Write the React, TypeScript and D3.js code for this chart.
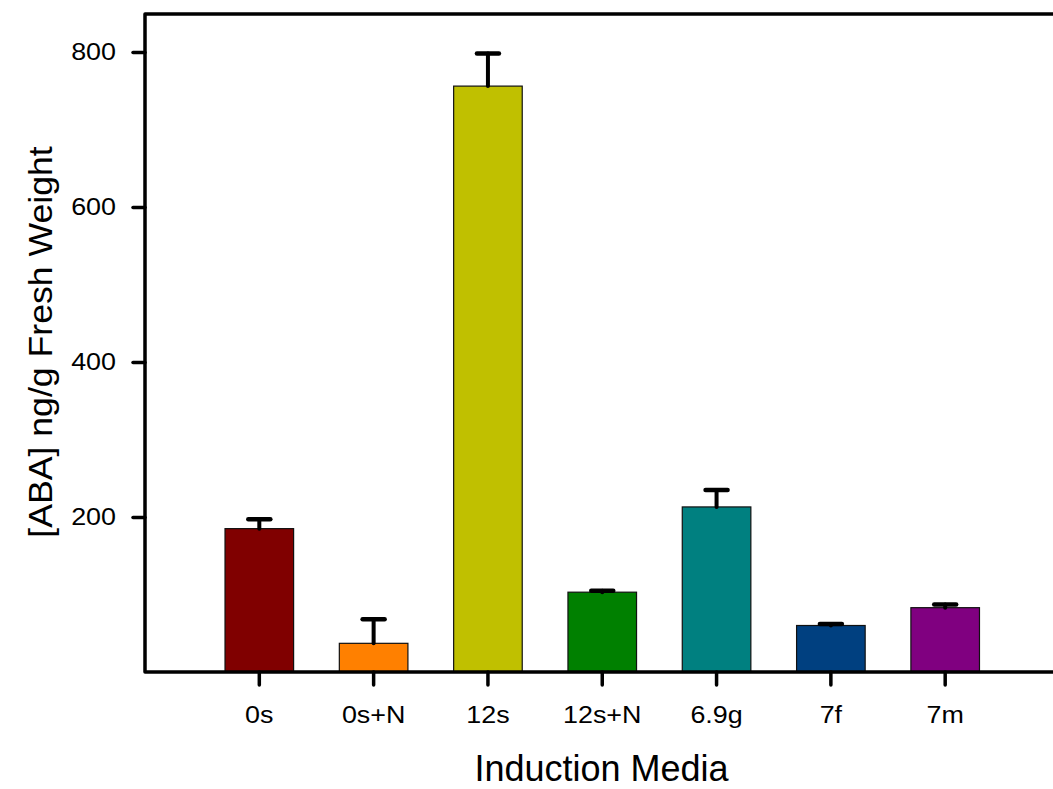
import React, { useEffect, useRef } from 'react';
import * as d3 from 'd3';

const categories = ['0s', '0s+N', '12s', '12s+N', '6.9g', '7f', '7m'];
const abaValues = [185, 37, 756, 103, 213, 60, 83];
const abaErrors = [12, 31, 42, 2, 22, 2, 4];
const barColors = ['#800000', '#ff8000', '#c0c000', '#008000', '#008080', '#004080', '#800080'];
const yTicks = [200, 400, 600, 800];

const W = 1053;
const H = 789;
const FONT = '"Liberation Sans", Arial, sans-serif';
// tick labels in the original are a little wide for their height
const SX = 1.12;

export default function App() {
  const svgRef = useRef<SVGSVGElement>(null);

  useEffect(() => {
    const svg = d3.select(svgRef.current);
    svg.selectAll('*').remove();

    const left = 145;
    const bottom = 672;
    const top = 14;

    const x = d3.scaleBand<string>()
      .domain(categories)
      .range([left, 1059.5])
      .paddingInner(0.4)
      .paddingOuter(0.7);
    const y = d3.scaleLinear().domain([0, 850]).range([bottom, 13.25]);

    const data = categories.map((c, i) => ({ c, v: abaValues[i], e: abaErrors[i], color: barColors[i] }));

    // bars
    svg.append('g')
      .selectAll('rect')
      .data(data)
      .join('rect')
      .attr('x', d => x(d.c)!)
      .attr('y', d => y(d.v))
      .attr('width', x.bandwidth())
      .attr('height', d => bottom - y(d.v))
      .attr('fill', d => d.color)
      .attr('stroke', '#111')
      .attr('stroke-width', 1.2);

    // error bars (upper only)
    const err = svg.append('g').attr('stroke', '#000').attr('stroke-linecap', 'round');
    const cx = (d: { c: string }) => x(d.c)! + x.bandwidth() / 2;
    err.selectAll('line.stem')
      .data(data)
      .join('line')
      .attr('class', 'stem')
      .attr('x1', cx).attr('x2', cx)
      .attr('y1', d => y(d.v))
      .attr('y2', d => y(d.v + d.e))
      .attr('stroke-width', 4);
    err.selectAll('line.cap')
      .data(data)
      .join('line')
      .attr('class', 'cap')
      .attr('x1', d => cx(d) - 11).attr('x2', d => cx(d) + 11)
      .attr('y1', d => y(d.v + d.e))
      .attr('y2', d => y(d.v + d.e))
      .attr('stroke-width', 4.5);

    // y axis
    const yAxis = svg.append('g')
      .attr('transform', `translate(${left},0)`)
      .call(d3.axisLeft(y).tickValues(yTicks).tickSize(12).tickPadding(17).tickFormat(d3.format('d')));
    yAxis.select('.domain').remove();
    yAxis.selectAll('.tick line').attr('stroke', '#000').attr('stroke-width', 3.5).attr('stroke-linecap', 'round');
    yAxis.selectAll('.tick text')
      .attr('font-family', FONT).attr('font-size', 24).attr('fill', '#000')
      .attr('x', -29 / SX)
      .attr('transform', `scale(${SX},1)`);

    // x axis
    const xAxis = svg.append('g')
      .attr('transform', `translate(0,${bottom})`)
      .call(d3.axisBottom(x).tickSize(13).tickPadding(21));
    xAxis.select('.domain').remove();
    xAxis.selectAll('.tick line').attr('stroke', '#000').attr('stroke-width', 3.5).attr('stroke-linecap', 'round');
    xAxis.selectAll('.tick text')
      .attr('font-family', FONT).attr('font-size', 24).attr('fill', '#000')
      .attr('transform', `scale(${SX},1)`);

    // frame
    svg.append('path')
      .attr('d', `M${W},${top}H${left}V${bottom}H${W}`)
      .attr('fill', 'none')
      .attr('stroke', '#000')
      .attr('stroke-width', 3.5)
      .attr('stroke-linejoin', 'round');

    // titles
    svg.append('text')
      .attr('x', 601.5)
      .attr('y', 781)
      .attr('text-anchor', 'middle')
      .attr('font-family', FONT)
      .attr('font-size', 36)
      .text('Induction Media');

    svg.append('text')
      .attr('transform', `translate(52,342) rotate(-90) scale(1.08,1)`)
      .attr('text-anchor', 'middle')
      .attr('font-family', FONT)
      .attr('font-size', 33)
      .text('[ABA] ng/g Fresh Weight');
  }, []);

  return (
    <svg
      ref={svgRef}
      width={W}
      height={H}
      style={{ position: 'absolute', left: 0, top: 0, background: '#fff' }}
    />
  );
}
